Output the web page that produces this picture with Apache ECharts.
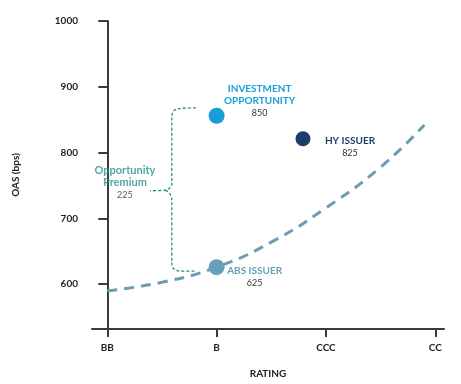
<!DOCTYPE html>
<html><head><meta charset="utf-8">
<script src="https://cdn.jsdelivr.net/npm/echarts@6/dist/echarts.min.js"></script>
<style>html,body{margin:0;padding:0;background:#fff}#c{width:461px;height:384px}</style>
</head><body><div id="c"></div>
<script>
const ratingLabels = ['BB', 'B', 'CCC', 'CC'];
const yTicks = [600, 700, 800, 900, 1000];
// curve (rating position, OAS)
const curveX = [0, 0.5, 1.0, 1.5, 2.0, 2.5, 2.9];
const curveY = [590, 603, 626, 664, 716, 778, 842];
// issuers
const pointNames = ['INVESTMENT\nOPPORTUNITY', 'HY ISSUER', 'ABS ISSUER'];
const pointLabels = ['850', '825', '625'];
const pointX = [1.0, 1.79, 1.0];
const pointY = [856, 821, 626];
// brace (Opportunity Premium)
const braceUpperX = [0.81, 0.66, 0.61, 0.59, 0.59, 0.57, 0.53, 0.39];
const braceUpperY = [868, 867, 864, 856, 752, 746, 743, 742];
const braceLowerX = [0.53, 0.57, 0.59, 0.59, 0.61, 0.66, 0.81];
const braceLowerY = [743, 738, 730, 630, 623, 620, 620];
const premiumName = 'Opportunity\nPremium';
const premiumValue = '225';

const FONT = 'Lato, "DejaVu Sans", sans-serif';
const colors = ['#1b9bd7', '#1d3c70', '#6a9fba'];
const offsets = [[43, -15], [47, 8], [38, 10]];
const labelColors = ['#1aa0d8', '#1d3c70', '#6a9fba'];

function zip(a, b) { return a.map((v, i) => [v, b[i]]); }

const pointSeries = pointX.map((x, i) => ({
  type: 'scatter', data: [[x, pointY[i]]], symbolSize: i === 1 ? 15 : 16, z: 5,
  itemStyle: { color: colors[i], opacity: 1 },
  label: {
    show: true, position: 'inside', offset: offsets[i], align: 'center',
    formatter: () => '{n|' + pointNames[i] + '}\n{v|' + pointLabels[i] + '}',
    rich: {
      n: { fontFamily: FONT, fontWeight: 'bold', fontSize: 10, color: labelColors[i], lineHeight: 12, align: 'center' },
      v: { fontFamily: FONT, fontSize: 9, color: '#333', lineHeight: 12, align: 'center' }
    }
  }
}));

const option = {
  animation: false,
  grid: { left: 92, right: 17, top: 21, bottom: 54 },
  xAxis: {
    type: 'value', min: -0.14, max: 3.08,
    name: 'RATING', nameLocation: 'middle', nameGap: 40,
    nameTextStyle: { fontFamily: FONT, fontWeight: 'bold', fontSize: 10, color: '#222' },
    axisLine: { show: true, lineStyle: { color: '#3a3a3a', width: 2 } },
    axisTick: { show: true, length: 8, lineStyle: { color: '#3a3a3a', width: 2 }, customValues: [0, 1, 2, 3] },
    axisLabel: { fontFamily: FONT, fontWeight: 'bold', fontSize: 10, color: '#222', margin: 14,
      customValues: [0, 1, 2, 3], formatter: v => ratingLabels[Math.round(v)] },
    splitLine: { show: false }
  },
  yAxis: {
    type: 'value', min: 532, max: 1000,
    name: 'OAS (bps)', nameLocation: 'middle', nameGap: 71, nameRotate: 90,
    nameTextStyle: { fontFamily: FONT, fontWeight: 'bold', fontSize: 10, color: '#222' },
    axisLine: { show: true, lineStyle: { color: '#3a3a3a', width: 2 } },
    axisTick: { show: true, length: 9, lineStyle: { color: '#3a3a3a', width: 2 }, customValues: yTicks },
    axisLabel: { fontFamily: FONT, fontWeight: 'bold', fontSize: 10, color: '#222', margin: 14,
      customValues: yTicks, formatter: v => String(v) },
    splitLine: { show: false }
  },
  series: [
    { type: 'line', data: zip(curveX, curveY), smooth: 0.5, symbol: 'none', z: 2,
      lineStyle: { color: '#6b9db1', width: 3, type: [10, 7] } },
    { type: 'line', data: zip(braceUpperX, braceUpperY), smooth: 0.3, symbol: 'none', z: 3,
      lineStyle: { color: '#23918a', width: 1.3, type: [3, 2] } },
    { type: 'line', data: zip(braceLowerX, braceLowerY), smooth: 0.3, symbol: 'none', z: 3,
      lineStyle: { color: '#23918a', width: 1.3, type: [3, 2] } },
    { type: 'scatter', data: [[braceUpperX[braceUpperX.length - 1], braceUpperY[braceUpperY.length - 1]]],
      symbolSize: 2, itemStyle: { color: 'rgba(0,0,0,0)' }, z: 4,
      label: { show: true, position: 'inside', offset: [-25, -8], align: 'center',
        formatter: () => '{n|' + premiumName + '}\n{v|' + premiumValue + '}',
        rich: {
          n: { fontFamily: FONT, fontWeight: 'bold', fontSize: 11, color: '#23918a', lineHeight: 12, align: 'center' },
          v: { fontFamily: FONT, fontSize: 9, color: '#333', lineHeight: 12, align: 'center' }
        } } },
    ...pointSeries
  ]
};
const chart = echarts.init(document.getElementById('c'), null, { renderer: 'canvas' });
chart.setOption(option);
</script></body></html>
